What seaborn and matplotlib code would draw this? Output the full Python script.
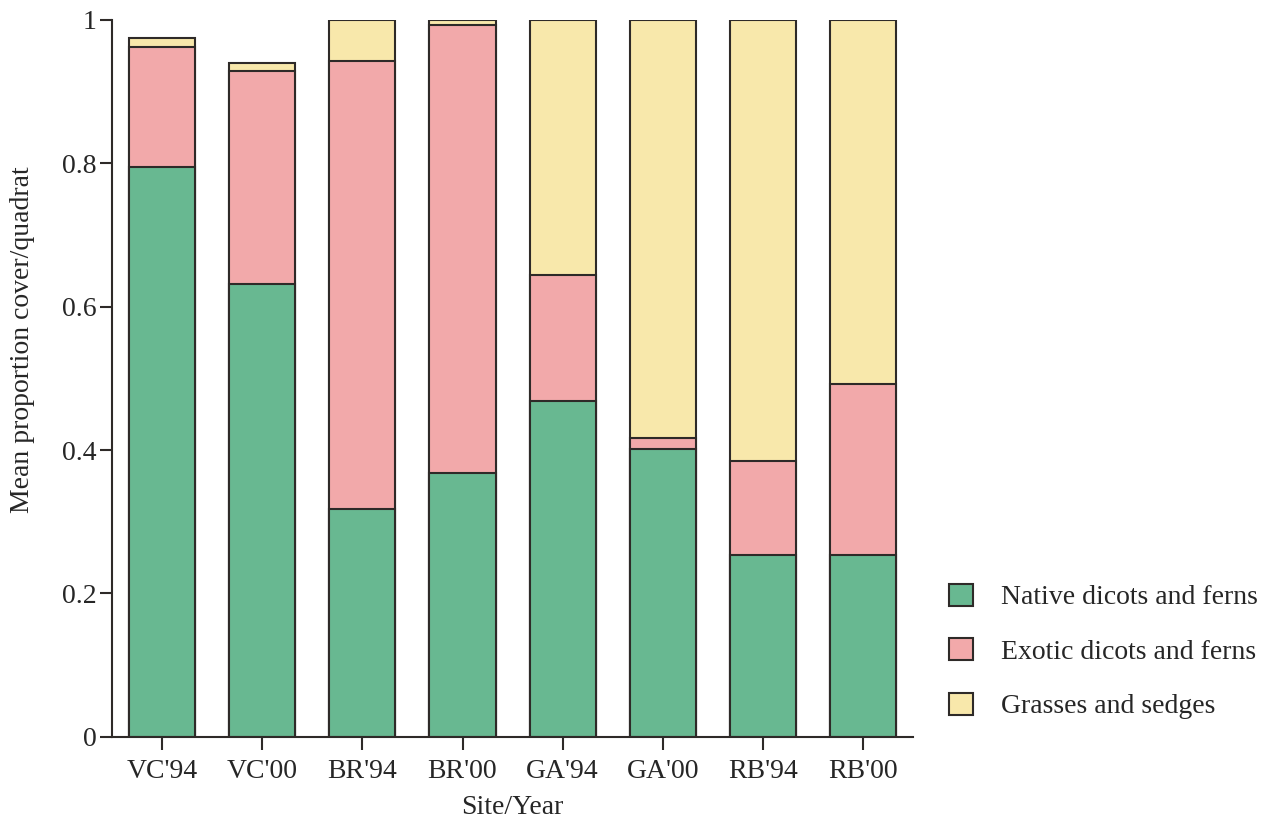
import numpy as np
import pandas as pd
import matplotlib
matplotlib.use('Agg')
import matplotlib.pyplot as plt
import seaborn as sns
from matplotlib.patches import Patch

# data
sites = ["VC'94", "VC'00", "BR'94", "BR'00", "GA'94", "GA'00", "RB'94", "RB'00"]
native = [0.795, 0.632, 0.318, 0.368, 0.469, 0.401, 0.254, 0.254]
exotic = [0.167, 0.297, 0.624, 0.625, 0.175, 0.016, 0.131, 0.238]
grass = [0.013, 0.011, 0.058, 0.007, 0.356, 0.583, 0.615, 0.508]
groups = ['Native dicots and ferns', 'Exotic dicots and ferns', 'Grasses and sedges']

colors = ['#68b891', '#f2a9aa', '#f8e8ab']
edge = '#2e2a28'

sns.set_style('ticks')
plt.rcParams['font.family'] = ['Liberation Serif', 'DejaVu Serif']

df = pd.DataFrame({'site': sites, 'native': native, 'exotic': exotic, 'grass': grass})
df['c1'] = df['native']
df['c2'] = df['native'] + df['exotic']
df['c3'] = df['c2'] + df['grass']

fig = plt.figure(figsize=(12.75, 8.27), dpi=100)
ax = fig.add_axes([0.088, 0.109, 0.628, 0.867])

# stacked bars: draw cumulative totals from the top layer down
for col, c in zip(['c3', 'c2', 'c1'], colors[::-1]):
    sns.barplot(data=df, x='site', y=col, color=c, width=0.66,
                edgecolor=edge, linewidth=1.5, ax=ax, saturation=1)

ax.set_xlim(-0.5, 7.5)
ax.set_ylim(0, 1)
ax.set_yticks([0, 0.2, 0.4, 0.6, 0.8, 1])
ax.set_yticklabels(['0', '0.2', '0.4', '0.6', '0.8', '1'])
ax.tick_params(axis='both', labelsize=20, length=9, width=1.5, color=edge)
ax.tick_params(axis='y', pad=2)
ax.tick_params(axis='x', pad=7)
for s in ['left', 'bottom']:
    ax.spines[s].set_linewidth(1.5)
    ax.spines[s].set_color(edge)
sns.despine(ax=ax)

ax.set_xlabel('Site/Year', fontsize=20, labelpad=8)
ax.set_ylabel('Mean proportion cover/quadrat', fontsize=20)
ax.yaxis.set_label_coords(-0.096, 0.554)

handles = [Patch(facecolor=c, edgecolor=edge, linewidth=1.5, label=g)
           for c, g in zip(colors, groups)]
fig.legend(handles=handles, loc='lower left', bbox_to_anchor=(0.725, 0.10),
           frameon=False, fontsize=20, handlelength=0.85, handleheight=0.85,
           labelspacing=1.0, handletextpad=1.0)

plt.savefig('out.png', dpi=100)
